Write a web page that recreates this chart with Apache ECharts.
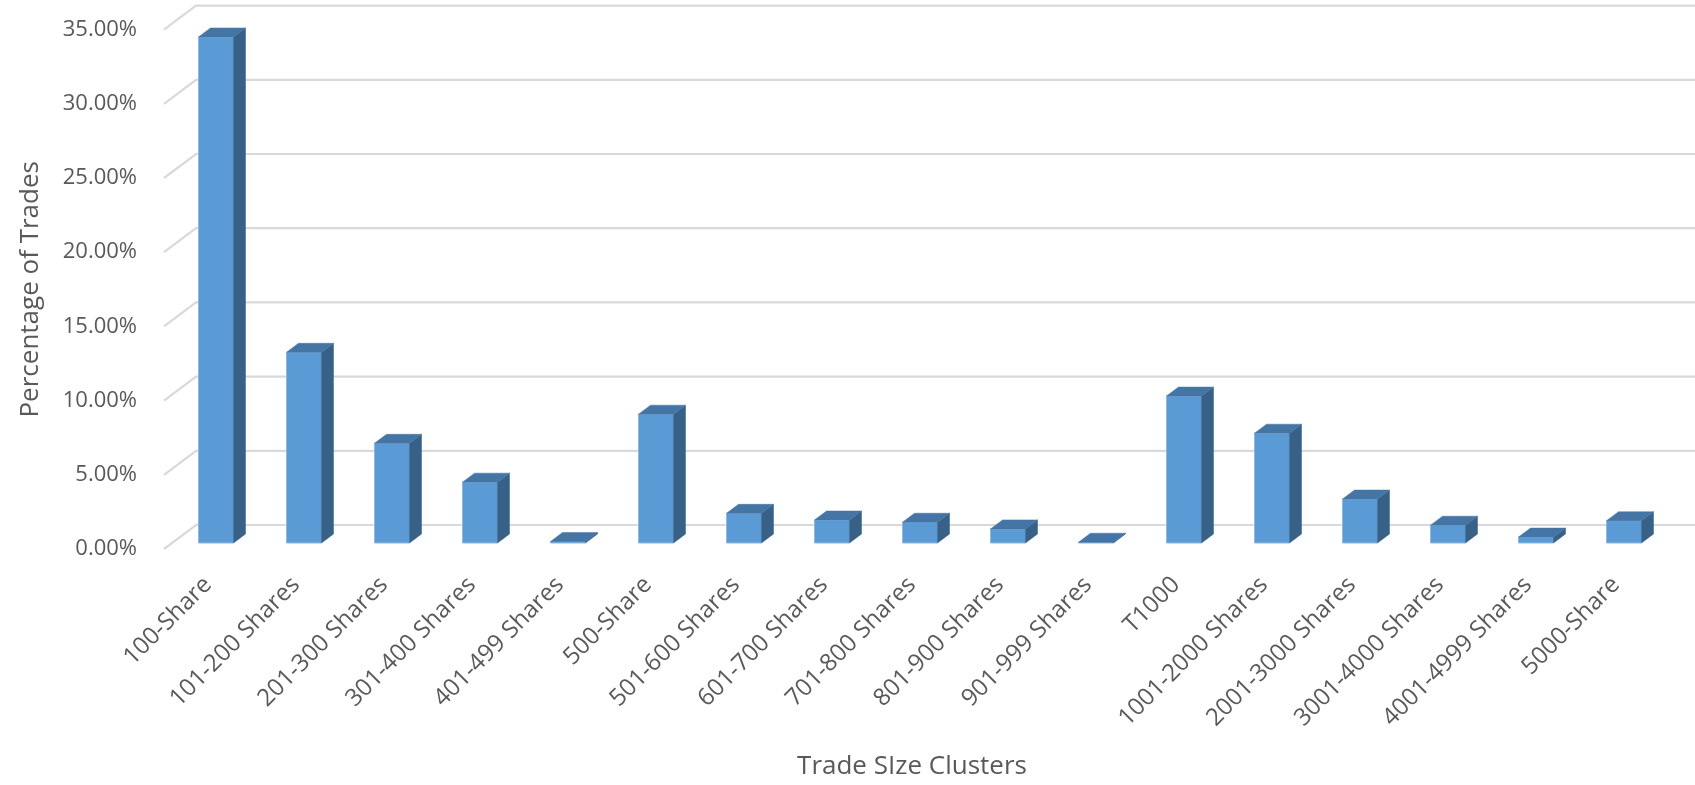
<!DOCTYPE html>
<html>
<head>
<meta charset="utf-8">
<script src="https://cdn.jsdelivr.net/npm/echarts@6/dist/echarts.min.js"></script>
<style>
html,body{margin:0;padding:0;background:#fff;}
#chart{width:1695px;height:785px;}
</style>
</head>
<body>
<div id="chart"></div>
<script>
const categories = ['100-Share','101-200 Shares','201-300 Shares','301-400 Shares','401-499 Shares','500-Share','501-600 Shares','601-700 Shares','701-800 Shares','801-900 Shares','901-999 Shares','T1000','1001-2000 Shares','2001-3000 Shares','3001-4000 Shares','4001-4999 Shares','5000-Share'];
const percentages = [34.1, 12.85, 6.72, 4.1, 0.1, 8.68, 2.0, 1.55, 1.4, 0.95, 0.05, 9.9, 7.4, 2.96, 1.2, 0.4, 1.5];
const yTicks = [0, 5, 10, 15, 20, 25, 30, 35];

const DEPTH = [32, -24];     // floor depth vector (front edge -> back wall)
const BAR_FRONT = 0.25, BAR_BACK = 0.625;
const BAR_W = 35 / 88;       // bar width as fraction of band

const chart = echarts.init(document.getElementById('chart'));
const font = '"Open Sans", sans-serif';

function gridRender(params, api) {
  const cs = params.coordSys;
  const y = api.coord([0, api.value(0)])[1];
  const x0 = cs.x, x1 = x0 + DEPTH[0], y1 = y + DEPTH[1];
  return {
    type: 'polyline',
    shape: { points: [[x0, y], [x1, y1], [1695, y1]] },
    style: { stroke: '#D9D9D9', lineWidth: 2.2, fill: null }
  };
}

function barRender(params, api) {
  const i = api.value(0), v = api.value(1);
  const top = api.coord([i, v]);
  const base = api.coord([i, 0]);
  const band = api.size([1, 0])[0];
  const w = band * BAR_W;
  const fx = DEPTH[0] * BAR_FRONT, fy = DEPTH[1] * BAR_FRONT;
  const bx = DEPTH[0] * BAR_BACK, by = DEPTH[1] * BAR_BACK;
  const L = top[0] - w / 2, R = top[0] + w / 2;
  const yT = top[1], yB = base[1];
  return {
    type: 'group',
    children: [
      { type: 'polygon', shape: { points: [[L + fx, yB + fy], [R + fx, yB + fy], [R + fx, yT + fy], [L + fx, yT + fy]] },
        style: { fill: '#5B9BD5', stroke: '#8DB8E2', lineWidth: 1 } },
      { type: 'polygon', shape: { points: [[R + fx, yB + fy], [R + bx, yB + by], [R + bx, yT + by], [R + fx, yT + fy]] },
        style: { fill: '#386188', stroke: '#386188', lineWidth: 0.5 } },
      { type: 'polygon', shape: { points: [[L + fx, yT + fy], [R + fx, yT + fy], [R + bx, yT + by], [L + bx, yT + by]] },
        style: { fill: '#4575A4', stroke: '#4575A4', lineWidth: 0.5 } }
    ]
  };
}

chart.setOption({
  animation: false,
  grid: { left: 164, right: 35, top: 29.6, bottom: 235, containLabel: false },
  xAxis: {
    type: 'category',
    data: categories,
    axisLine: { show: false },
    axisTick: { show: false },
    axisLabel: { rotate: 45, margin: 32, fontSize: 24, color: '#595959', fontFamily: font, interval: 0 },
    name: 'Trade SIze Clusters',
    nameLocation: 'middle',
    nameGap: 205,
    nameTextStyle: { fontSize: 26, color: '#595959', fontFamily: font }
  },
  yAxis: {
    type: 'value',
    min: 0, max: 35, interval: 5,
    splitLine: { show: false },
    axisLine: { show: false },
    axisTick: { show: false },
    axisLabel: { margin: 27, fontSize: 22, color: '#595959', fontFamily: font,
      formatter: v => v.toFixed(2) + '%' },
    name: 'Percentage of Trades',
    nameLocation: 'middle',
    nameRotate: 90,
    nameGap: 120,
    nameTextStyle: { fontSize: 26, color: '#595959', fontFamily: font }
  },
  series: [
    { type: 'custom', renderItem: gridRender, data: yTicks.map(t => [t]), encode: { y: 0 }, silent: true, z: 1, clip: false },
    { type: 'custom', renderItem: barRender, data: percentages.map((v, i) => [i, v]), encode: { x: 0, y: 1 }, z: 2, clip: false }
  ]
});
</script>
</body>
</html>
